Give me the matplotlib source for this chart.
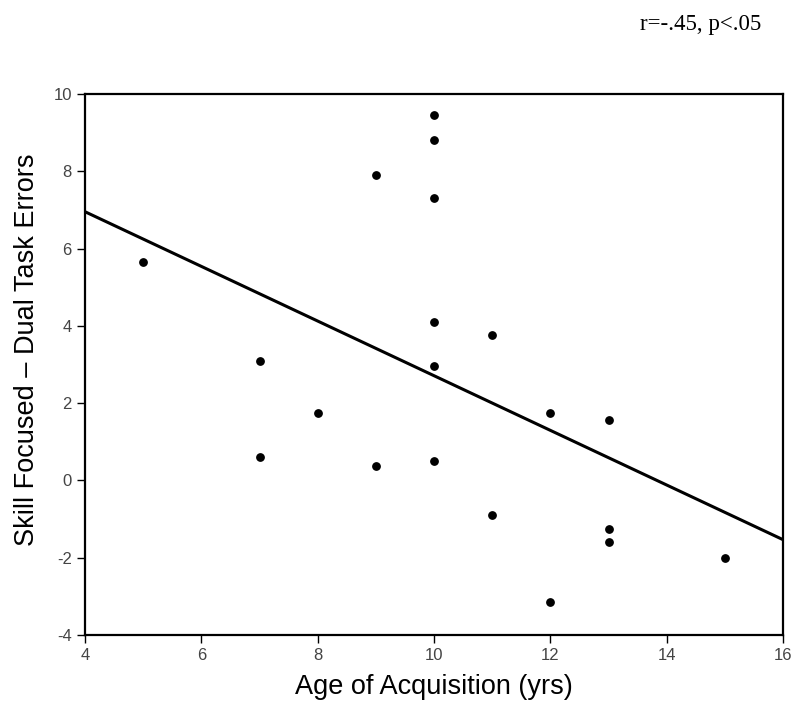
import matplotlib
matplotlib.use("Agg")

import matplotlib.pyplot as plt
import numpy as np

# age of acquisition (yrs) vs. skill focused - dual task errors
age = [5, 7, 7, 8, 9, 9, 10, 10, 10, 10, 10, 10, 11, 11, 12, 12, 13, 13, 13, 15]
errors = [5.65, 3.1, 0.6, 1.75, 7.9, 0.38, 9.45, 8.8, 7.3, 4.1, 2.95, 0.5,
          3.75, -0.9, 1.75, -3.15, 1.55, -1.25, -1.6, -2.0]
xticks = [4, 6, 8, 10, 12, 14, 16]
yticks = [-4, -2, 0, 2, 4, 6, 8, 10]

plt.rcParams["font.family"] = ["Liberation Sans", "DejaVu Sans"]
plt.rcParams["axes.unicode_minus"] = False

fig = plt.figure(figsize=(7.95, 7.07), dpi=100)
ax = fig.add_axes([0.107, 0.102, 0.878, 0.765])

ax.scatter(age, errors, s=28, color="black", zorder=3)

slope, icept = np.polyfit(age, errors, 1)
xs = np.array([4, 16])
ax.plot(xs, icept + slope * xs, color="black", lw=2.2, zorder=2)

ax.set_xlim(4, 16)
ax.set_ylim(-4, 10)
ax.set_xticks(xticks)
ax.set_yticks(yticks)
ax.tick_params(direction="out", length=6, width=1, labelsize=12, labelcolor="#444444")
for sp in ax.spines.values():
    sp.set_linewidth(1.6)

ax.set_xlabel("Age of Acquisition (yrs)", fontsize=19.5, labelpad=8)
ax.set_ylabel("Skill Focused \u2013 Dual Task Errors", fontsize=19.5)
ax.yaxis.set_label_coords(-0.064, 0.527)

fig.text(0.957, 0.966, "r=-.45, p<.05", ha="right", va="center", fontsize=16.5,
         family=["Liberation Serif", "DejaVu Serif"])

fig.savefig("out.png", dpi=100)
